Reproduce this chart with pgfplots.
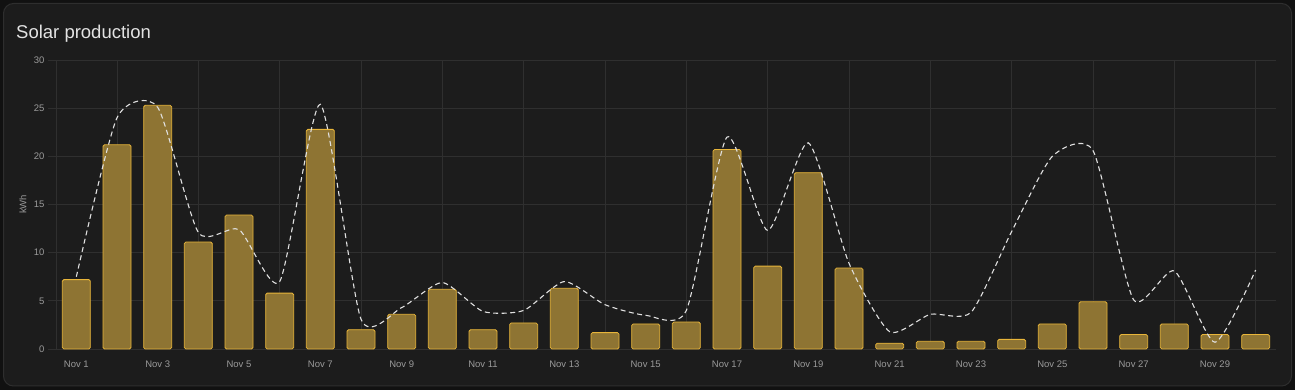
\documentclass[border=0pt]{standalone}
\usepackage{pgfplots}
\pgfplotsset{compat=1.18}
\usepackage{pgfplotstable}
\usepackage{fontspec}
\setmainfont{Liberation Sans}
\definecolor{outerbg}{HTML}{111111}
\definecolor{cardbg}{HTML}{1C1C1C}
\definecolor{cardborder}{HTML}{2E2E2E}
\definecolor{gridc}{HTML}{2F2F2F}
\definecolor{tickc}{HTML}{9A9A9A}
\definecolor{barfill}{HTML}{8E7433}
\definecolor{barline}{HTML}{E8B53A}
\definecolor{titlec}{HTML}{E3E3E3}
\definecolor{linec}{HTML}{E0E0E0}

\pgfplotstableread{
day kwh
1 7.2
2 21.2
3 25.3
4 11.1
5 13.9
6 5.8
7 22.8
8 2.0
9 3.6
10 6.2
11 2.0
12 2.7
13 6.3
14 1.7
15 2.6
16 2.8
17 20.7
18 8.6
19 18.3
20 8.4
21 0.6
22 0.8
23 0.8
24 1.0
25 2.6
26 4.9
27 1.5
28 2.6
29 1.5
30 1.5
}\production

\pgfplotstableread{
day fc
1 7.5
2 24.0
3 25.1
4 12.1
5 12.4
6 7.0
7 25.4
8 3.1
9 4.3
10 6.9
11 3.9
12 4.0
13 7.0
14 4.6
15 3.5
16 4.0
17 22.0
18 12.3
19 21.4
20 8.9
21 1.8
22 3.6
23 3.8
24 12.2
25 20.0
26 20.6
27 5.1
28 8.1
29 0.7
30 8.2
}\forecast

\begin{document}
\begin{tikzpicture}[x=1pt,y=1pt]
\fill[outerbg] (0,0) rectangle (1295,390);
\useasboundingbox (0,0) rectangle (1295,390);
\draw[cardborder, fill=cardbg, rounded corners=10pt, line width=1pt] (3.5,4) rectangle (1291.5,386.5);
\node[anchor=base west, text=titlec, font=\fontsize{18.5}{22}\selectfont, inner sep=0pt] at (16,351) {Solar production};
\begin{axis}[
  at={(56pt,41pt)}, anchor=south west,
  width=1220pt, height=289pt, scale only axis,
  xmin=0.5, xmax=30.5, ymin=0, ymax=30,
  axis x line*=bottom, axis y line*=left,
  axis line style={gridc, line width=0.8pt},
  xtick={1,3,...,29},
  xticklabels={Nov 1,Nov 3,Nov 5,Nov 7,Nov 9,Nov 11,Nov 13,Nov 15,Nov 17,Nov 19,Nov 21,Nov 23,Nov 25,Nov 27,Nov 29},
  minor xtick={2,4,...,30},
  ytick={0,5,...,30},
  /pgf/number format/assume math mode=true,
  xmajorgrids=false, xminorgrids=true, ymajorgrids=true,
  grid style={gridc, line width=0.8pt},
  minor grid style={gridc, line width=0.8pt},
  tick align=outside,
  major tick length=8pt, minor tick length=6pt,
  xtick style={draw=none},
  minor x tick style={gridc, line width=0.8pt},
  ytick style={gridc, line width=0.8pt},
  ticklabel style={font=\fontsize{9.5}{11}\selectfont, text=tickc},
  clip=false,
]
\addplot[ybar, bar width=28pt, fill=barfill, draw=barline, line width=0.8pt, rounded corners=1.5pt] table[x=day, y=kwh] {\production};
\addplot[smooth, tension=0.38, color=linec, line width=1.1pt, dash pattern=on 5pt off 3.5pt, mark=none] table[x=day, y=fc] {\forecast};
\node[rotate=90, text=tickc, font=\fontsize{9.5}{11}\selectfont] at ([xshift=-33pt]rel axis cs:0,0.5) {kWh};
\end{axis}
\end{tikzpicture}
\end{document}
